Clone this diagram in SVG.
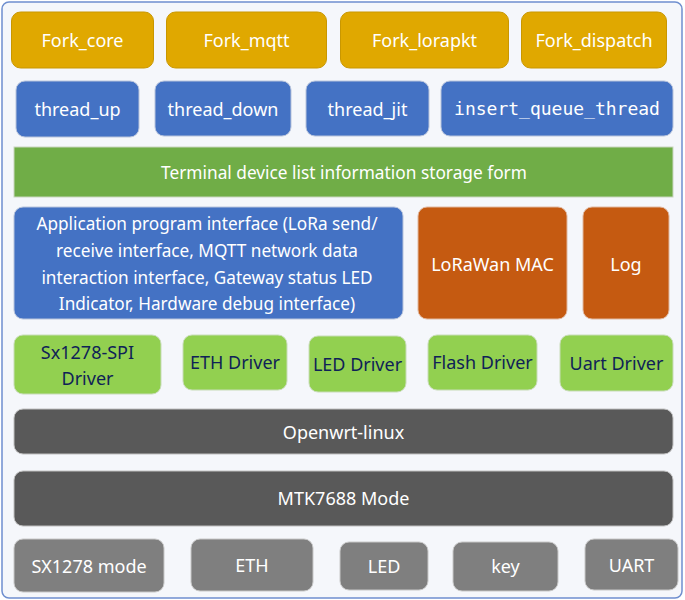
<svg xmlns="http://www.w3.org/2000/svg" width="685" height="600" viewBox="0 0 685 600">
<style>
text{font-family:"Noto Sans","Open Sans",sans-serif;text-anchor:middle;dominant-baseline:central}
.w{fill:#ffffff}
.d{fill:#0f2257}
.f18{font-size:18px}
.f17{font-size:17.3px}
.f16{font-size:17.2px}
.mono{font-family:"DejaVu Sans Mono","Liberation Mono",monospace;font-size:18px}
.or{fill:#e0a800;stroke:#c99700;stroke-width:1}
.bl{fill:#4472c4;stroke:#b8c4dc;stroke-width:1}
.gr{fill:#70ad47;stroke:#c9d6c0;stroke-width:1}
.rd{fill:#c55a11;stroke:#e0b8a0;stroke-width:1}
.lg{fill:#92d050;stroke:#c8dcb8;stroke-width:1}
.dk{fill:#595959;stroke:#c0c0c0;stroke-width:1}
.gy{fill:#7f7f7f;stroke:#c8c8c8;stroke-width:1}
</style>
<rect id="container" x="2" y="2" width="680" height="596" rx="7" fill="#f5f7fb" stroke="#6f8fcf" stroke-width="1.5"/>
<g id="connectors"></g>
<g id="fork_core"><rect class="or" x="11.5" y="12" width="142" height="56" rx="9"/><text class="w f18" x="82.5" y="40">Fork_core</text></g>
<g id="fork_mqtt"><rect class="or" x="166.5" y="12" width="160" height="56" rx="9"/><text class="w f18" x="246.5" y="40">Fork_mqtt</text></g>
<g id="fork_lorapkt"><rect class="or" x="340.5" y="12" width="168" height="56" rx="9"/><text class="w f18" x="424.5" y="40">Fork_lorapkt</text></g>
<g id="fork_dispatch"><rect class="or" x="521.5" y="12" width="145" height="56" rx="9"/><text class="w f18" x="594" y="40">Fork_dispatch</text></g>
<g id="thread_up"><rect class="bl" x="16" y="81" width="123" height="56" rx="9"/><text class="w f18" x="77.5" y="109">thread_up</text></g>
<g id="thread_down"><rect class="bl" x="155" y="81" width="136" height="55" rx="9"/><text class="w f18" x="223" y="108.5">thread_down</text></g>
<g id="thread_jit"><rect class="bl" x="306" y="81" width="123" height="55" rx="9"/><text class="w f18" x="367.5" y="108.5">thread_jit</text></g>
<g id="insert_queue_thread"><rect class="bl" x="441" y="81" width="232" height="55" rx="9"/><text class="w mono" x="557" y="108.5">insert_queue_thread</text></g>
<g id="storage_form"><rect class="gr" x="14" y="147" width="659" height="50"/><text class="w f17" x="344" y="172">Terminal device list information storage form</text></g>
<g id="api"><rect class="bl" x="14" y="207" width="389" height="112" rx="9"/>
<text class="w f16" x="207" y="223">Application program interface (LoRa send/</text>
<text class="w f16" x="207" y="250">receive interface, MQTT network data</text>
<text class="w f16" x="207" y="277">interaction interface, Gateway status LED</text>
<text class="w f16" x="207" y="303">Indicator, Hardware debug interface)</text></g>
<g id="lorawan_mac"><rect class="rd" x="418" y="207" width="149" height="112" rx="9"/><text class="w f18" x="492.5" y="264">LoRaWan MAC</text></g>
<g id="log"><rect class="rd" x="583" y="207" width="86" height="112" rx="9"/><text class="w f18" x="626" y="264">Log</text></g>
<g id="sx1278_spi"><rect class="lg" x="14" y="335" width="147" height="59" rx="9"/><text class="d f18" x="87.5" y="352">Sx1278-SPI</text><text class="d f18" x="87.5" y="378">Driver</text></g>
<g id="eth_driver"><rect class="lg" x="183" y="335" width="104" height="55" rx="9"/><text class="d f18" x="235" y="362">ETH Driver</text></g>
<g id="led_driver"><rect class="lg" x="309" y="336" width="97" height="56" rx="9"/><text class="d f18" x="357.5" y="364">LED Driver</text></g>
<g id="flash_driver"><rect class="lg" x="428" y="335" width="109" height="55" rx="9"/><text class="d f18" x="482.5" y="362">Flash Driver</text></g>
<g id="uart_driver"><rect class="lg" x="560" y="335" width="113" height="56" rx="9"/><text class="d f18" x="616.5" y="363">Uart Driver</text></g>
<g id="openwrt"><rect class="dk" x="14" y="409" width="659" height="45" rx="9"/><text class="w f18" x="343.5" y="432">Openwrt-linux</text></g>
<g id="mtk7688"><rect class="dk" x="14" y="471" width="659" height="55" rx="9"/><text class="w f18" x="343.5" y="498">MTK7688 Mode</text></g>
<g id="sx1278_mode"><rect class="gy" x="14" y="539" width="150" height="53" rx="9"/><text class="w f18" x="89" y="566">SX1278 mode</text></g>
<g id="eth"><rect class="gy" x="191" y="539" width="122" height="52" rx="9"/><text class="w f18" x="252" y="565">ETH</text></g>
<g id="led"><rect class="gy" x="340" y="542" width="88" height="48" rx="9"/><text class="w f18" x="384" y="566">LED</text></g>
<g id="key"><rect class="gy" x="453" y="542" width="105" height="49" rx="9"/><text class="w f18" x="505.5" y="566">key</text></g>
<g id="uart"><rect class="gy" x="585" y="539" width="93" height="51" rx="9"/><text class="w f18" x="631.5" y="565">UART</text></g>
</svg>
